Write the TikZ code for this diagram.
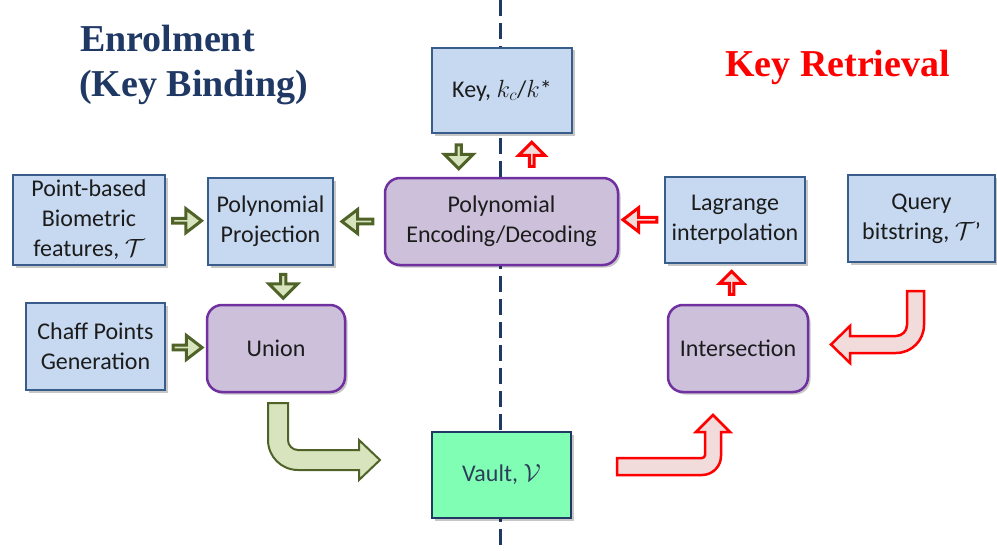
\documentclass[tikz,border=0pt]{standalone}
\usepackage{fontspec}
\setmainfont{Carlito}
\newfontfamily\headfont{Liberation Serif}
\usetikzlibrary{shapes.arrows,shadows,calc}

\definecolor{boxfill}{RGB}{198,217,241}
\definecolor{boxline}{RGB}{56,93,138}
\definecolor{purfill}{RGB}{204,192,218}
\definecolor{purline}{RGB}{112,48,160}
\definecolor{vaultfill}{RGB}{128,255,180}
\definecolor{navy}{RGB}{31,56,100}
\definecolor{gfill}{RGB}{215,228,189}
\definecolor{gline}{RGB}{79,98,40}
\definecolor{rfill}{RGB}{242,220,219}
\definecolor{rline}{RGB}{255,0,0}
\definecolor{textdark}{RGB}{28,28,28}
\definecolor{vaulttext}{RGB}{44,62,90}

\begin{document}
\begin{tikzpicture}[x=1pt,y=-1pt,
  every node/.style={font=\fontsize{24}{30}\selectfont, text=textdark},
  boxshadow/.style={drop shadow={shadow xshift=2.5pt,shadow yshift=-2.5pt,opacity=.22,fill=black}},
  bluebox/.style={boxshadow, draw=boxline, fill=boxfill, line width=2.5pt, align=center, inner sep=0pt},
  purbox/.style={boxshadow, draw=purline, fill=purfill, line width=2.5pt, rounded corners=15pt, align=center, inner sep=0pt},
  blk/.style={single arrow, inner sep=0pt, line width=3pt, line join=miter},
  gblk/.style={blk, draw=gline, fill=gfill},
  rblk/.style={blk, draw=rline, fill=rfill},
  hsmall/.style={minimum height=29pt, minimum width=24pt, single arrow head extend=6pt, single arrow tip angle=75},
  vsmall/.style={minimum height=24pt, minimum width=29pt, single arrow head extend=7pt},
  gbend/.style={draw=gline, fill=gfill, line width=2pt, line join=miter},
  rbend/.style={draw=rline, fill=rfill, line width=2.5pt, line join=miter},
  heading/.style={anchor=base west, inner sep=0pt, font=\headfont\bfseries\fontsize{38}{45}\selectfont}
]
\useasboundingbox (0,0) rectangle (997,551);

% dashed axis between the two phases
\coordinate (axtop) at (500,0);
\coordinate (axbot) at (500,551);
\draw[navy, line width=3pt, dash pattern=on 16pt off 7pt] (axtop) -- (axbot);

% headings
\node[heading, text=navy] (enrol) at (80,52) {Enrolment};
\node[heading, text=navy] (binding) at (79,97) {(Key Binding)};
\node[heading, text=rline] (retrieval) at (725,77) {Key Retrieval};

% central column
\node[bluebox, minimum width=140pt, minimum height=85pt] (key) at (502,90.5) {Key, $k_c$/$k$*};
\node[purbox, minimum width=233pt, minimum height=87pt] (penc) at (501.5,221.5) {Polynomial\\Encoding/Decoding};
\node[bluebox, fill=vaultfill, draw=navy, minimum width=139pt, minimum height=86pt, text=vaulttext] (vault) at (501.5,475) {Vault, $\mathcal{V}$};

% enrolment side
\node[bluebox, minimum width=152pt, minimum height=90pt] (pbf) at (89,220) {Point-based\\Biometric\\features, $\mathcal{T}$};
\node[bluebox, minimum width=125pt, minimum height=87pt] (pp) at (270.5,221.5) {Polynomial\\Projection};
\node[bluebox, minimum width=139pt, minimum height=87pt] (chaff) at (95.5,346.5) {Chaff Points\\Generation};
\node[purbox, minimum width=138pt, minimum height=87pt] (union) at (276,348.5) {Union};

% retrieval side
\node[bluebox, minimum width=140pt, minimum height=86pt] (lag) at (735,220) {Lagrange\\interpolation};
\node[bluebox, minimum width=147pt, minimum height=87pt] (query) at (921.5,218.5) {Query\\bitstring, $\mathcal{T}$’};
\node[purbox, minimum width=140pt, minimum height=87pt] (inter) at (738,348.5) {Intersection};

% small block arrows
\node[gblk, hsmall] (a1) at ($(pbf.east)!0.5!(pp.west)+(-1,0)$) {};
\node[gblk, hsmall, minimum height=31pt, shape border rotate=180] (a2) at ($(pp.east)!0.5!(penc.west)+(0,0)$) {};
\node[gblk, hsmall] (a3) at ($(chaff.east)!0.5!(union.west)$) {};
\node[gblk, vsmall, shape border rotate=270] (a4) at ($(pp.south)!0.5!(union.north)+(10,0)$) {};
\node[gblk, vsmall, shape border rotate=270] (a5) at ($(key.south)!0.5!(penc.north)+(-43,0)$) {};
\node[rblk, vsmall, minimum width=26pt, single arrow head extend=7pt, shape border rotate=90] (a6) at ($(key.south)!0.5!(penc.north)+(30,0)$) {};
\node[rblk, hsmall, minimum height=34pt, shape border rotate=180] (a7) at ($(penc.east)!0.5!(lag.west)+(0,-1)$) {};
\node[rblk, vsmall, minimum height=23pt, minimum width=24pt, single arrow head extend=6.5pt, shape border rotate=90] (a8) at ($(inter.north)!0.5!(lag.south)+(-5,0)$) {};

% bent arrow: union to vault
\draw[gbend] (268,403) -- (288,403) -- (288,440)
  .. controls (288,445.5) and (292.5,450) .. (298,450)
  -- (359,450) -- (359,440) -- (380,460) -- (359,480) -- (359,470) -- (298,470)
  .. controls (281.4,470) and (268,456.6) .. (268,440) -- cycle;

% bent arrow: vault to intersection
\draw[rbend] (617,458) -- (702,458)
  .. controls (703.7,458) and (705,456.7) .. (705,455)
  -- (705,432) -- (696,432) -- (713,415) -- (730,432) -- (721,432) -- (721,456)
  .. controls (721,466.5) and (712.5,475) .. (702,475)
  -- (617,475) -- cycle;

% bent arrow: query to intersection
\draw[rbend] (907,291) -- (924,291) -- (924,325)
  .. controls (924,340.5) and (911.5,353) .. (896,353)
  -- (850,353) -- (850,363) -- (831,344.5) -- (850,326) -- (850,336) -- (896,336)
  .. controls (902.1,336) and (907,331.1) .. (907,325) -- cycle;
\end{tikzpicture}
\end{document}
